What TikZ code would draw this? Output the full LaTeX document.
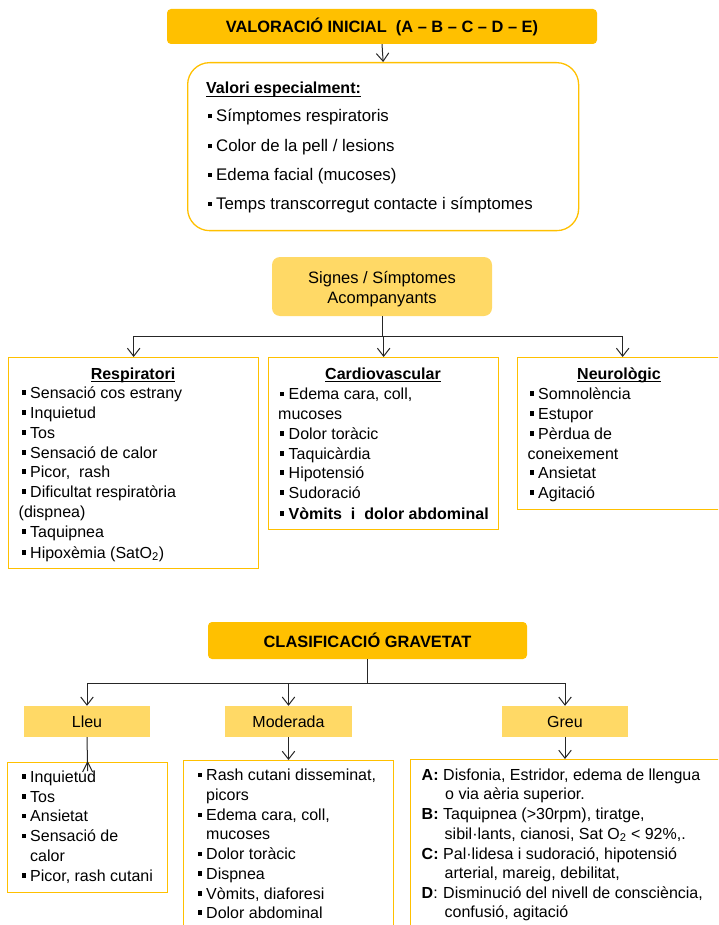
\documentclass[tikz,border=0pt]{standalone}
\usepackage{fontspec}
\setmainfont{Liberation Sans}
\usetikzlibrary{arrows.meta}
\definecolor{gold}{HTML}{FFC000}
\definecolor{ylw}{HTML}{FFD966}
\newcommand{\bul}{\llap{\rule[3.5pt]{4.2pt}{4.2pt}\hspace{4.5pt}}}
\newcommand{\myul}[1]{\setbox0\hbox{#1}\rlap{\vrule height -1.6pt depth 2.8pt width \wd0}\box0}
\begin{document}
\begin{tikzpicture}[x=1pt,y=-1pt,
  conn/.style={line width=1pt, draw=black!85},
  arr/.style={conn, -{Straight Barb[length=8pt,width=12.5pt,line width=1pt]}},
  txt/.style={anchor=base west, inner sep=0pt, font=\fontsize{16}{19}\selectfont},
  btxt/.style={anchor=base west, inner sep=0pt, font=\fontsize{16}{19}\selectfont\bfseries},
  ttl/.style={anchor=base, inner sep=0pt, font=\fontsize{16}{19}\selectfont\bfseries},
  lbox/.style={draw=gold, line width=1.3pt, fill=white, inner sep=0pt},
  obox/.style={fill=gold, rounded corners=4pt, inner sep=0pt, font=\fontsize{16.4}{19}\selectfont\bfseries},
  ybox/.style={fill=ylw, inner sep=0pt, font=\fontsize{16}{19}\selectfont},
]
\useasboundingbox (0,0) rectangle (718,925);
\clip (0,0) rectangle (718,925);

% ---------- top ----------
\node[obox, minimum width=430pt, minimum height=35pt] (val) at (382,26.5)
  {VALORACIÓ INICIAL\ \ (A – B – C – D – E)};
\node[lbox, rounded corners=22pt, minimum width=391pt, minimum height=168pt, anchor=north west] (esp) at (187,62) {};
\draw[arr] (val.south) -- (esp.north);
\node[btxt] (e0) at (206,94) {\myul{Valori especialment:}};
\begin{scope}[txt/.append style={font=\fontsize{16.8}{19}\selectfont}]
\node[txt] (e1) at (216,122) {\bul Símptomes respiratoris};
\node[txt] (e2) at (216,152) {\bul Color de la pell / lesions};
\node[txt] (e3) at (216,180.5) {\bul Edema facial (mucoses)};
\node[txt] (e4) at (216,209.5) {\bul Temps transcorregut contacte i símptomes};
\end{scope}

% ---------- signes ----------
\node[ybox, rounded corners=8pt, minimum width=220pt, minimum height=59pt] (sig) at (382,286.5) {};
\node[inner sep=0pt, align=center, font=\fontsize{16.5}{20}\selectfont] (sigtxt) at (382,289.5) {Signes / Símptomes\\Acompanyants};

\node[lbox, minimum width=250pt, minimum height=211pt, anchor=north west] (resp) at (8,357) {};
\node[lbox, minimum width=230pt, minimum height=172pt, anchor=north west] (card) at (268,357) {};
\node[lbox, minimum width=210pt, minimum height=152pt, anchor=north west] (neuro) at (517,357) {};

\coordinate (bus1) at (382,336);
\draw[conn] (sig.south) -- (bus1);
\draw[conn] (bus1 -| resp.north) -- (bus1 -| neuro.north);
\draw[arr] (bus1 -| resp.north) -- (resp.north);
\draw[arr] (bus1 -| card.north) -- (card.north);
\draw[arr] (bus1 -| neuro.north) -- (neuro.north);

% Respiratori
\node[ttl] (rt) at (133,379) {\myul{Respiratori}};
\node[txt] (r1) at (30,398) {\bul Sensació cos estrany};
\node[txt] (r2) at (30,418) {\bul Inquietud};
\node[txt] (r3) at (30,438) {\bul Tos};
\node[txt] (r4) at (30,458) {\bul Sensació de calor};
\node[txt] (r5) at (30,477) {\bul Picor,\ \ rash};
\node[txt] (r6) at (30,497) {\bul Dificultat respiratòria};
\node[txt] (r6b) at (18.5,517) {(dispnea)};
\node[txt] (r7) at (30,537) {\bul Taquipnea};
\node[txt] (r8) at (30,558) {\bul Hipoxèmia (SatO\textsubscript{2})};

% Cardiovascular
\node[ttl] (ct) at (383,379) {\myul{Cardiovascular}};
\node[txt] (c1) at (288.5,399.5) {\bul Edema cara, coll,};
\node[txt] (c1b) at (278,419) {mucoses};
\node[txt] (c2) at (288.5,439) {\bul Dolor toràcic};
\node[txt] (c3) at (288.5,459) {\bul Taquicàrdia};
\node[txt] (c4) at (288.5,478) {\bul Hipotensió};
\node[txt] (c5) at (288.5,498) {\bul Sudoració};
\node[btxt] (c6) at (288.5,519) {\bul Vòmits\ \ i\ \ dolor abdominal};

% Neurologic
\node[ttl] (nt) at (619,379) {\myul{Neurològic}};
\node[txt] (n1) at (538,399) {\bul Somnolència};
\node[txt] (n2) at (538,419) {\bul Estupor};
\node[txt] (n3) at (538,439) {\bul Pèrdua de};
\node[txt] (n3b) at (527.5,459) {coneixement};
\node[txt] (n4) at (538,478) {\bul Ansietat};
\node[txt] (n5) at (538,498) {\bul Agitació};

% ---------- gravetat ----------
\node[obox, minimum width=319pt, minimum height=37pt] (grav) at (367.5,640.5) {CLASIFICACIÓ GRAVETAT};
\node[ybox, minimum width=126pt, minimum height=31pt] (lleu) at (87,721.5) {Lleu};
\node[ybox, minimum width=127pt, minimum height=31pt] (mod) at (288.5,721.5) {Moderada};
\node[ybox, minimum width=126pt, minimum height=31pt] (greu) at (565,721.5) {Greu};

\coordinate (bus2) at (367.5,683);
\draw[conn, line width=1.3pt] (grav.south) -- (bus2);
\draw[conn] (bus2 -| lleu.north) -- (bus2 -| greu.north);
\draw[arr] (bus2 -| lleu.north) -- (lleu.north);
\draw[arr] (bus2 -| mod.north) -- (mod.north);
\draw[arr] (bus2 -| greu.north) -- (greu.north);

\node[lbox, minimum width=160pt, minimum height=130pt, anchor=north west] (lleulist) at (7,762) {};
\node[lbox, minimum width=210pt, minimum height=180pt, anchor=north west] (modlist) at (183,760) {};
\node[lbox, minimum width=320pt, minimum height=180pt, anchor=north west] (greulist) at (410,759) {};

\draw[conn] (lleu.south) -- ([yshift=-9pt]lleulist.north);
\draw[conn] ([xshift=-5pt,yshift=-10pt]lleulist.north) -- (lleulist.north) -- ([xshift=5pt,yshift=-10pt]lleulist.north);
\draw[arr] (mod.south) -- (mod.south |- modlist.north);
\draw[arr] (greu.south) -- (greu.south |- greulist.north);

% Lleu list
\node[txt] (l1) at (30,782) {\bul Inquietud};
\node[txt] (l2) at (30,802) {\bul Tos};
\node[txt] (l3) at (30,821.5) {\bul Ansietat};
\node[txt] (l4) at (30,841.5) {\bul Sensació de};
\node[txt] (l4b) at (30,861.5) {calor};
\node[txt] (l5) at (30,881) {\bul Picor, rash cutani};

% Moderada list
\node[txt] (m1) at (206,780.5) {\bul Rash cutani disseminat,};
\node[txt] (m1b) at (206,800.5) {picors};
\node[txt] (m2) at (206,820.5) {\bul Edema cara, coll,};
\node[txt] (m2b) at (206,839.5) {mucoses};
\node[txt] (m3) at (206,859.5) {\bul Dolor toràcic};
\node[txt] (m4) at (206,879) {\bul Dispnea};
\node[txt] (m5) at (206,899) {\bul Vòmits, diaforesi};
\node[txt] (m6) at (206,918) {\bul Dolor abdominal};

% Greu list
\node[btxt] (gA) at (421.5,780.5) {A:};
\node[txt] (g1) at (443,780.5) {Disfonia, Estridor, edema de llengua};
\node[txt] (g1b) at (445,799.5) {o via aèria superior.};
\node[btxt] (gB) at (421.5,819.5) {B:};
\node[txt] (g2) at (443,819.5) {Taquipnea (>30rpm), tiratge,};
\node[txt] (g2b) at (444.5,839) {sibil·lants, cianosi, Sat O\textsubscript{2} < 92\%,.};
\node[btxt] (gC) at (421.5,859) {C:};
\node[txt] (g3) at (443,859) {Pal·lidesa i sudoració, hipotensió};
\node[txt] (g3b) at (444.5,878) {arterial, mareig, debilitat,};
\node[txt] (gD) at (421.5,898) {\textbf{D}:};
\node[txt] (g4) at (443,898) {Disminució del nivell de consciència,};
\node[txt] (g4b) at (444.5,917) {confusió, agitació};
\end{tikzpicture}
\end{document}
